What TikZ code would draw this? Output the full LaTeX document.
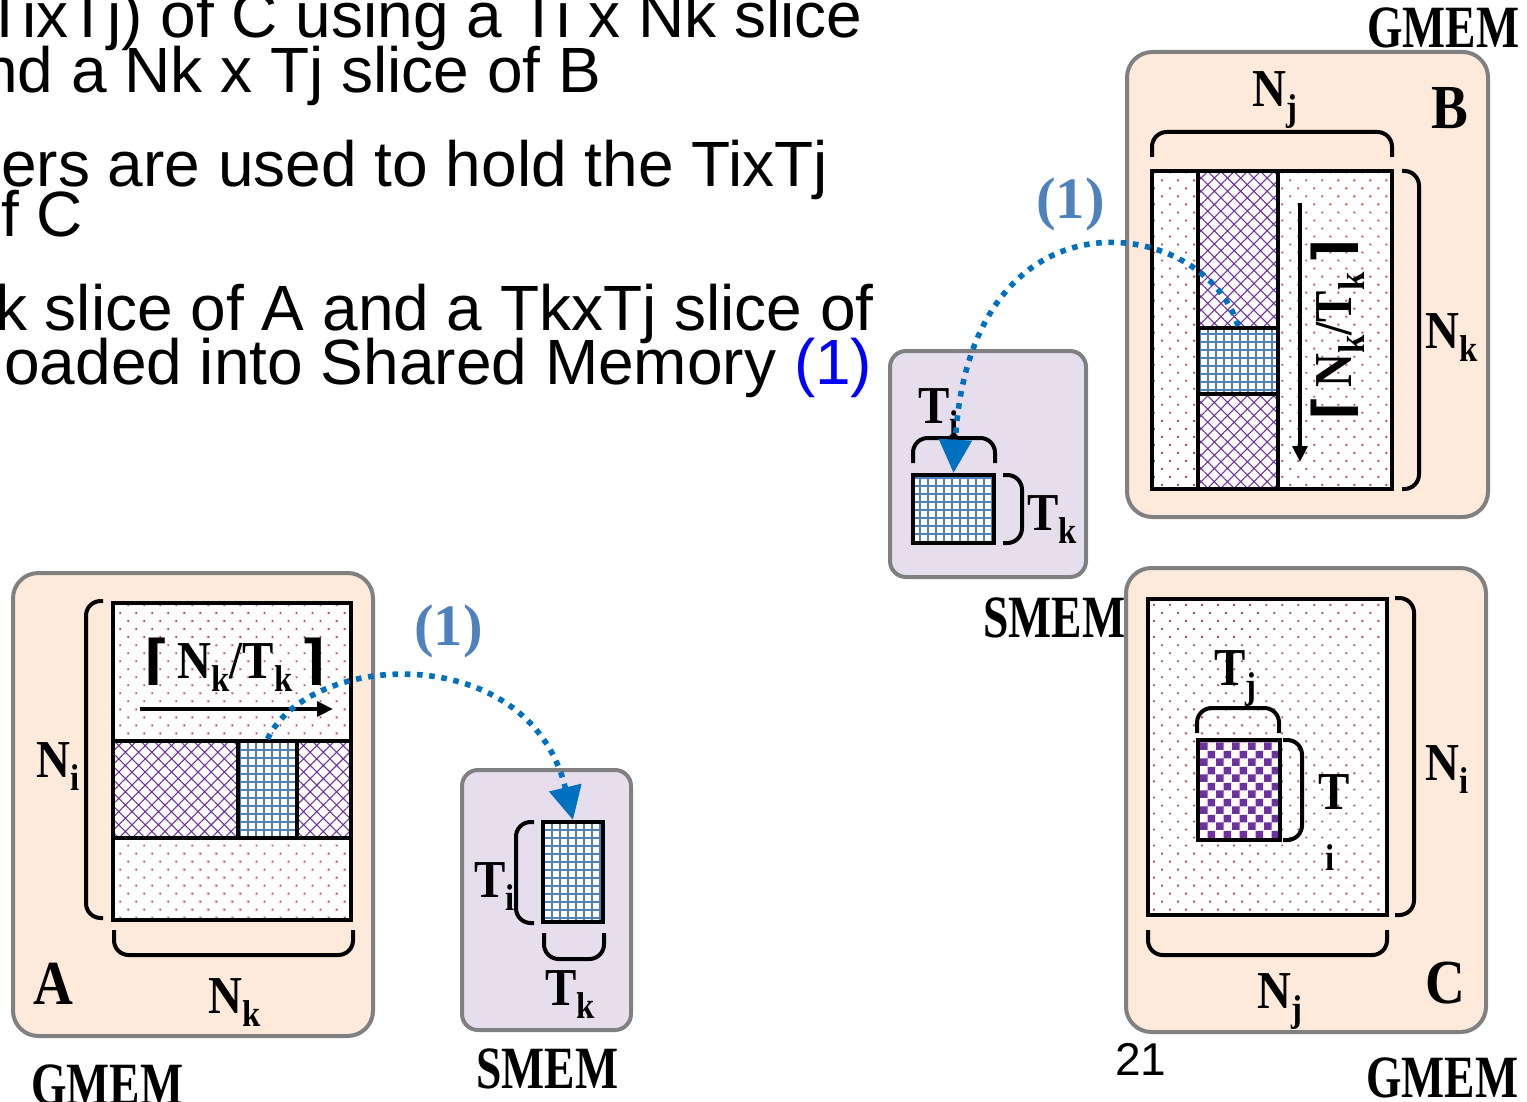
\documentclass[tikz,border=0pt]{standalone}
\usepackage{fontspec}
\setmainfont{Liberation Sans}
\newfontfamily\lblfont[FakeStretch=0.88]{Liberation Serif}
\newfontfamily\memfont[FakeStretch=0.76]{Liberation Serif}
\newfontfamily\stepfont{Liberation Serif}
\newfontfamily\symfont{DejaVu Sans}
\usetikzlibrary{patterns,patterns.meta,arrows.meta,fit}

\definecolor{boxorange}{HTML}{FDEADA}
\definecolor{boxpurple}{HTML}{E6DEED}
\definecolor{boxgray}{HTML}{808080}
\definecolor{dotred}{HTML}{C0504D}
\definecolor{hatchpurple}{HTML}{7030A0}
\definecolor{gridblue}{HTML}{4F81BD}
\definecolor{flowblue}{HTML}{0070C0}
\definecolor{labblue}{HTML}{4F81BD}

% checkerboard with 6pt cells
\pgfdeclarepatternformonly{bigchecker}{\pgfqpoint{0pt}{0pt}}{\pgfqpoint{12pt}{12pt}}{\pgfqpoint{12pt}{12pt}}{%
  \pgfpathrectangle{\pgfqpoint{0pt}{0pt}}{\pgfqpoint{6pt}{6pt}}%
  \pgfpathrectangle{\pgfqpoint{6pt}{6pt}}{\pgfqpoint{6pt}{6pt}}%
  \pgfusepath{fill}}

\newcommand\lsub[1]{\raisebox{-0.25em}{\fontsize{28}{28}\selectfont #1}}
\newcommand\ceilof[1]{{\symfont\bfseries ⌈\,}#1{\symfont\bfseries \,⌉}}

\begin{document}
\begin{tikzpicture}[x=0.75pt,y=-0.75pt,
  gbox/.style={draw=boxgray, line width=3pt, fill=boxorange, rounded corners=19pt, inner sep=0pt},
  sbox/.style={draw=boxgray, line width=3pt, fill=boxpurple, rounded corners=12pt, inner sep=0pt},
  dotfill/.style={preaction={fill=white}, pattern={Dots[distance=8.5pt, angle=45, radius=1pt]},
    pattern color=dotred, draw=black, line width=3pt, inner sep=0pt},
  hatchfill/.style={preaction={fill=white}, pattern={Hatch[distance=7pt, angle=45, line width=0.8pt]},
    pattern color=hatchpurple, draw=black, line width=3pt, inner sep=0pt},
  gridfill/.style={preaction={fill=white}, pattern={Hatch[distance=6pt, angle=0, line width=1.1pt]},
    pattern color=gridblue, draw=black, line width=3pt, inner sep=0pt},
  checkfill/.style={preaction={fill=white}, pattern=bigchecker,
    pattern color=hatchpurple, draw=black, line width=3pt, inner sep=0pt},
  brace/.style={draw=black, line width=3pt, rounded corners=11pt},
  flow/.style={draw=flowblue, line width=4.2pt, dash pattern=on 4.2pt off 5pt,
    -{Triangle[length=25pt,width=24pt]}},
  dimarrow/.style={draw=black, line width=3pt, -{Triangle[length=12pt,width=11pt]}},
  toptext/.style={font=\fontsize{48}{50}\selectfont, inner sep=0pt, anchor=base west},
  lab/.style={font=\lblfont\bfseries\fontsize{40}{40}\selectfont, inner sep=0pt, anchor=base west},
  biglab/.style={font=\lblfont\bfseries\fontsize{47}{47}\selectfont, inner sep=0pt, anchor=base west},
  memlab/.style={font=\memfont\bfseries\fontsize{45}{45}\selectfont, inner sep=0pt, anchor=base west},
  steplab/.style={font=\stepfont\bfseries\fontsize{44}{44}\selectfont, text=labblue, inner sep=0pt, anchor=base west}]

\useasboundingbox (0,0) rectangle (1527,1102);
\clip (0,0) rectangle (1527,1102);

% bullet text
\node[toptext] (t1) at (-15,38) {TixTj) of C using a Ti x Nk slice};
\node[toptext] (t2) at (-18,93) {nd a Nk x Tj slice of B};
\node[toptext] (t3) at (1,186) {ers are used to hold the TixTj};
\node[toptext] (t4) at (1,236) {f C};
\node[toptext] (t5) at (-5,330) {k slice of A and a TkxTj slice of};
\node[toptext] (t6) at (4,384) {oaded into Shared Memory \textcolor{blue}{(1)}};

% ---------- matrix A in global memory ----------
\node[gbox, fit={(13,573)(373,1036)}] (boxA) {};
\node[dotfill, fit={(113,603)(351,920)}] (matA) {};
\node[hatchfill, fit={(113,741)(238,838)}] (bandAl) {};
\node[gridfill, fit={(238,741)(297,838)}] (tileA) {};
\node[hatchfill, fit={(297,741)(351,838)}] (bandAr) {};
\coordinate (arrAs) at (140,709);
\coordinate (arrAe) at (333,709);
\draw[dimarrow] (arrAs) -- (arrAe);
\node[lab] (ceilA) at (144,678) {\ceilof{N\lsub{k}/T\lsub{k}}};
\draw[brace] (103,601) -- (86,601) -- (86,918) -- (103,918);
\draw[brace] (114,930) -- (114,955) -- (353,955) -- (353,930);
\node[lab] (niA) at (36,777) {N\lsub{i}};
\node[lab] (nkA) at (208,1013) {N\lsub{k}};
\node[biglab] (nameA) at (33,1004) {A};
\node[memlab] (gmemA) at (31,1104) {GMEM};

% ---------- A tile in shared memory ----------
\node[sbox, fit={(462,770)(631,1030)}] (smemA) {};
\node[gridfill, fit={(543,822)(603,922)}] (tileSA) {};
\draw[brace] (534,822) -- (516,822) -- (516,923) -- (534,923);
\draw[brace] (544,933) -- (544,959) -- (604,959) -- (604,933);
\node[lab] (tiSA) at (474,897) {T\lsub{i}};
\node[lab] (tkSA) at (545,1005) {T\lsub{k}};
\node[memlab] (smemAlab) at (476,1088) {SMEM};
\node[steplab] (stepA) at (414,645) {(1)};

% ---------- matrix B in global memory ----------
\node[gbox, fit={(1127,52)(1488,517)}] (boxB) {};
\node[dotfill, fit={(1152,171)(1392,489)}] (matB) {};
\node[hatchfill, fit={(1198,171)(1278,328)}] (bandBt) {};
\node[gridfill, fit={(1198,328)(1278,394)}] (tileB) {};
\node[hatchfill, fit={(1198,394)(1278,489)}] (bandBb) {};
\coordinate (arrBs) at (1300,203);
\coordinate (arrBe) at (1300,462);
\draw[dimarrow] (arrBs) -- (arrBe);
\node[lab, anchor=center, rotate=90] (ceilB) at (1338,330) {\ceilof{N\lsub{k}/T\lsub{k}}};
\draw[brace] (1152,157) -- (1152,132) -- (1392,132) -- (1392,157);
\draw[brace] (1402,171) -- (1419,171) -- (1419,489) -- (1402,489);
\node[lab] (njB) at (1252,107) {N\lsub{j}};
\node[lab] (nkB) at (1425,348) {N\lsub{k}};
\node[biglab] (nameB) at (1431,129) {B};
\node[memlab] (gmemB) at (1367,48) {GMEM};

% ---------- B tile in shared memory ----------
\node[sbox, fit={(890,351)(1086,577)}] (smemB) {};
\node[gridfill, fit={(913,475)(994,543)}] (tileSB) {};
\draw[brace] (913,463) -- (913,438) -- (995,438) -- (995,463);
\draw[brace] (1003,475) -- (1022,475) -- (1022,543) -- (1003,543);
\node[lab] (tiSB) at (918,423) {T\lsub{i}};
\node[lab] (tkSB) at (1027,530) {T\lsub{k}};
\node[memlab] (smemBlab) at (983,637) {SMEM};
\node[steplab] (stepB) at (1036,218) {(1)};

% ---------- matrix C in global memory ----------
\node[gbox, fit={(1126,568)(1486,1032)}] (boxC) {};
\node[dotfill, fit={(1148,599)(1387,915)}] (matC) {};
\node[checkfill, fit={(1198,740)(1280,840)}] (tileC) {};
\draw[brace] (1197,733) -- (1197,708) -- (1279,708) -- (1279,733);
\draw[brace] (1283,740) -- (1302,740) -- (1302,840) -- (1283,840);
\draw[brace] (1395,598) -- (1414,598) -- (1414,915) -- (1395,915);
\draw[brace] (1148,930) -- (1148,955) -- (1387,955) -- (1387,930);
\node[lab] (tjC) at (1214,685) {T\lsub{j}};
\node[lab] (tC) at (1318,809) {T};
\node[font=\lblfont\bfseries\fontsize{28}{28}\selectfont, inner sep=0pt, anchor=base west] (iC) at (1325,870) {i};
\node[lab] (niC) at (1425,780) {N\lsub{i}};
\node[lab] (njC) at (1257,1008) {N\lsub{j}};
\node[biglab] (nameC) at (1425,1003) {C};
\node[memlab] (gmemC) at (1366,1097) {GMEM};

\node[font=\fontsize{34.5}{36}\selectfont, inner sep=0pt, anchor=base west] (page) at (1115,1075) {21};

% ---------- loads into shared memory ----------
\draw[flow] (tileA.north) .. controls (310,650) and (530,640) .. (tileSA.north);
\draw[flow] (tileB.north) .. controls (1205,215) and (970,180) .. (tileSB.north);
\end{tikzpicture}
\end{document}
